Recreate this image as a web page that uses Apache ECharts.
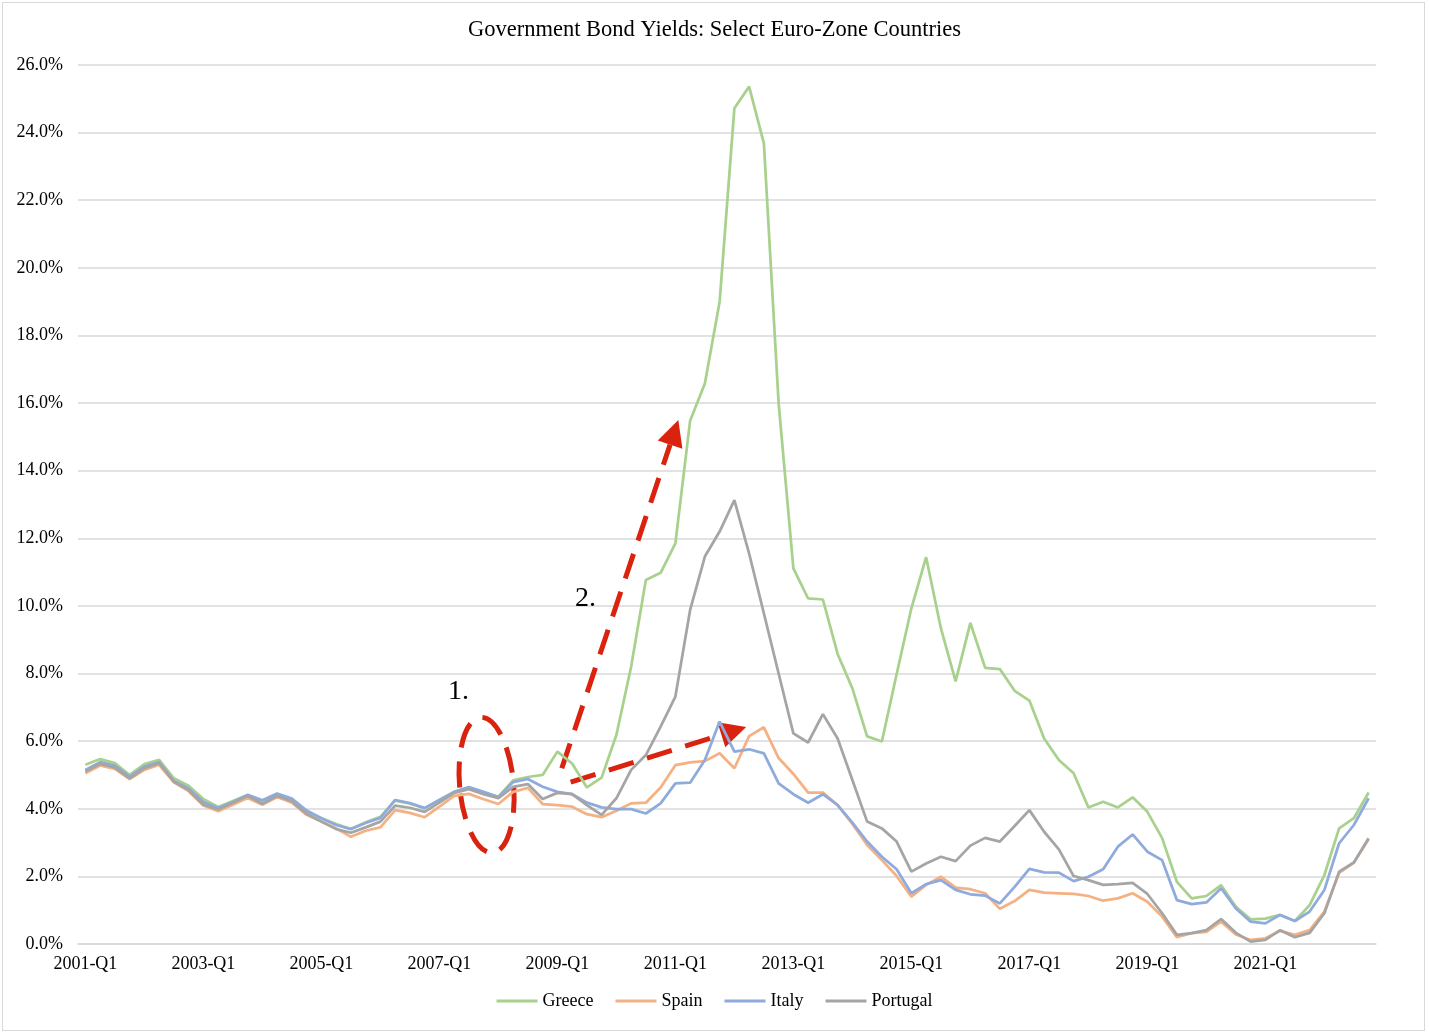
<!DOCTYPE html>
<html>
<head>
<meta charset="utf-8">
<script src="https://cdn.jsdelivr.net/npm/echarts@6/dist/echarts.min.js"></script>
<style>
html,body{margin:0;padding:0;background:#fff;}
#frame{position:absolute;left:2px;top:2px;width:1423px;height:1029px;border:1px solid #d9d9d9;box-sizing:border-box;}
#chart{position:absolute;left:0;top:0;width:1429px;height:1035px;}
</style>
</head>
<body>
<div id="frame"></div>
<div id="chart"></div>
<script>
// Categories: quarterly, 2001-Q1 .. 2022-Q4
const years = [2001,2002,2003,2004,2005,2006,2007,2008,2009,2010,2011,2012,2013,2014,2015,2016,2017,2018,2019,2020,2021,2022];
const quarterNames = ['Q1','Q2','Q3','Q4'];
const categories = [];
years.forEach(y => quarterNames.forEach(q => categories.push(y + '-' + q)));

const greece = [5.30,5.47,5.35,5.00,5.32,5.45,4.90,4.68,4.29,4.05,4.23,4.41,4.23,4.43,4.29,3.92,3.72,3.55,3.40,3.60,3.76,4.24,4.15,4.02,4.26,4.50,4.62,4.48,4.35,4.84,4.94,5.00,5.69,5.34,4.63,4.92,6.18,8.20,10.77,10.98,11.85,15.48,16.58,19.00,24.72,25.36,23.68,16.00,11.11,10.22,10.19,8.58,7.56,6.14,5.99,7.98,9.93,11.44,9.34,7.77,9.50,8.17,8.13,7.49,7.20,6.08,5.44,5.05,4.04,4.21,4.04,4.34,3.91,3.13,1.84,1.35,1.42,1.74,1.10,0.73,0.75,0.86,0.68,1.15,2.04,3.42,3.72,4.48];
const spain = [5.05,5.28,5.18,4.88,5.15,5.30,4.78,4.52,4.10,3.93,4.12,4.32,4.12,4.35,4.18,3.82,3.62,3.42,3.17,3.35,3.45,3.96,3.88,3.75,4.06,4.38,4.44,4.28,4.14,4.50,4.62,4.14,4.11,4.06,3.84,3.75,3.94,4.16,4.18,4.63,5.29,5.37,5.41,5.64,5.20,6.15,6.41,5.50,5.03,4.48,4.48,4.11,3.55,2.93,2.48,2.01,1.40,1.75,1.99,1.67,1.62,1.50,1.04,1.27,1.60,1.52,1.50,1.48,1.42,1.28,1.35,1.50,1.25,0.81,0.20,0.32,0.36,0.66,0.28,0.12,0.17,0.39,0.27,0.41,0.96,2.10,2.41,3.10];
const italy = [5.15,5.38,5.28,4.95,5.25,5.38,4.82,4.60,4.20,4.02,4.20,4.41,4.25,4.45,4.30,3.95,3.72,3.52,3.40,3.58,3.73,4.26,4.17,4.02,4.26,4.50,4.64,4.50,4.35,4.79,4.88,4.65,4.50,4.43,4.18,4.04,3.99,3.99,3.86,4.16,4.75,4.77,5.44,6.58,5.69,5.76,5.64,4.75,4.43,4.18,4.43,4.11,3.59,3.03,2.58,2.21,1.50,1.77,1.89,1.60,1.47,1.43,1.20,1.69,2.22,2.12,2.11,1.86,1.99,2.21,2.88,3.24,2.73,2.48,1.30,1.18,1.23,1.65,1.05,0.66,0.61,0.86,0.68,0.96,1.60,2.98,3.52,4.31];
const portugal = [5.10,5.33,5.22,4.90,5.20,5.35,4.80,4.55,4.12,3.98,4.18,4.38,4.15,4.38,4.22,3.85,3.62,3.40,3.29,3.45,3.62,4.09,4.03,3.91,4.18,4.47,4.58,4.43,4.31,4.65,4.73,4.29,4.47,4.43,4.11,3.82,4.31,5.15,5.59,6.43,7.32,9.88,11.46,12.20,13.13,11.55,9.78,8.00,6.23,5.96,6.80,6.08,4.85,3.62,3.42,3.03,2.14,2.38,2.58,2.45,2.91,3.14,3.03,3.49,3.96,3.32,2.80,2.01,1.89,1.75,1.77,1.81,1.48,0.91,0.27,0.32,0.41,0.74,0.33,0.07,0.12,0.41,0.20,0.33,0.91,2.14,2.41,3.13];

const seriesNames = ['Greece','Spain','Italy','Portugal'];
const seriesData = [greece, spain, italy, portugal];
const colors = ['#A9D18E','#F4B183','#8FAADC','#A5A5A5'];

const serif = '"Liberation Serif", "DejaVu Serif", serif';

const chart = echarts.init(document.getElementById('chart'));
chart.setOption({
  animation: false,
  backgroundColor: 'transparent',
  title: {
    text: 'Government Bond Yields: Select Euro-Zone Countries',
    left: 'center', top: 14,
    textStyle: {fontFamily: serif, fontSize: 22.5, fontWeight: 'normal', color: '#000'}
  },
  legend: {
    data: seriesNames,
    bottom: 20, left: 'center',
    itemWidth: 41, itemHeight: 14, itemGap: 22,
    icon: 'path://M0,5.5 L41,5.5 L41,8.5 L0,8.5 Z',
    textStyle: {fontFamily: serif, fontSize: 18, color: '#000'}
  },
  grid: {left: 78, right: 53, top: 65, bottom: 91},
  xAxis: {
    type: 'category',
    data: categories,
    boundaryGap: true,
    axisLine: {lineStyle: {color: '#d9d9d9', width: 1.5}},
    axisTick: {show: false},
    axisLabel: {interval: 7, fontFamily: serif, fontSize: 18, color: '#000', margin: 11}
  },
  yAxis: {
    type: 'value', min: 0, max: 26, interval: 2,
    axisLine: {show: false}, axisTick: {show: false},
    splitLine: {lineStyle: {color: '#d9d9d9', width: 1.5}},
    axisLabel: {fontFamily: serif, fontSize: 18, color: '#000', margin: 15,
      formatter: v => v.toFixed(1) + '%'}
  },
  series: seriesNames.map((n, k) => ({
    name: n, type: 'line', data: seriesData[k], symbol: 'none',
    lineStyle: {color: colors[k], width: 2.75}, itemStyle: {color: colors[k]}
  }))
});

// Annotations anchored in data space (category index, value %)
const red = '#D9230F';
function px(i, v) {
  const a = chart.convertToPixel({xAxisIndex: 0, yAxisIndex: 0}, [0, 0]);
  const b = chart.convertToPixel({xAxisIndex: 0, yAxisIndex: 0}, [87, 26]);
  return [a[0] + (b[0] - a[0]) * i / 87, a[1] + (b[1] - a[1]) * v / 26];
}
function arrow(from, to) {
  const p = px(from[0], from[1]), q = px(to[0], to[1]);
  const dx = q[0] - p[0], dy = q[1] - p[1], L = Math.hypot(dx, dy);
  const ux = dx / L, uy = dy / L, head = 26, hw = 13;
  const bx = q[0] - ux * head, by = q[1] - uy * head;
  return [
    {type: 'line', shape: {x1: p[0], y1: p[1], x2: bx, y2: by},
     style: {stroke: red, lineWidth: 5, lineDash: [26, 14]}},
    {type: 'polygon', shape: {points: [[q[0], q[1]], [bx - uy * hw, by + ux * hw], [bx + uy * hw, by - ux * hw]]},
     style: {fill: red}}
  ];
}
const ec = px(27.2, 4.70);
const l1 = px(25.3, 7.45), l2 = px(33.9, 10.23);
chart.setOption({
  graphic: [
    {type: 'ellipse', shape: {cx: 0, cy: 0, rx: 27, ry: 68}, x: ec[0], y: ec[1], rotation: 0.09,
     style: {fill: 'none', stroke: red, lineWidth: 5, lineDash: [26, 14]}},
    ...arrow([32.3, 5.2], [40.2, 15.5]),
    ...arrow([32.9, 4.79], [44.8, 6.42]),
    {type: 'text', x: l1[0], y: l1[1], style: {text: '1.', font: '28px ' + serif, fill: '#000', textAlign: 'center', textVerticalAlign: 'middle'}},
    {type: 'text', x: l2[0], y: l2[1], style: {text: '2.', font: '28px ' + serif, fill: '#000', textAlign: 'center', textVerticalAlign: 'middle'}}
  ]
});
</script>
</body>
</html>
